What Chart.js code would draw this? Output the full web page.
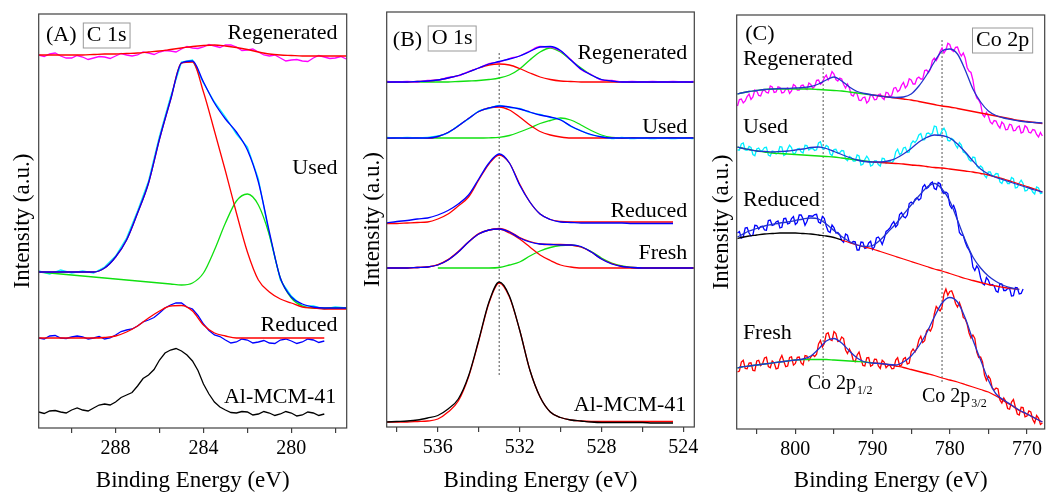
<!DOCTYPE html>
<html>
<head>
<meta charset="utf-8">
<script src="https://cdn.jsdelivr.net/npm/chart.js@4.4.1/dist/chart.umd.min.js"></script>
<style>
  html, body { margin: 0; padding: 0; background: #fff; }
  #wrap { position: relative; width: 1046px; height: 492px; }
  #wrap canvas { position: absolute; left: 0; top: 0; }
</style>
</head>
<body>
<div id="wrap">
  <canvas id="chartA" width="1046" height="492"></canvas>
  <canvas id="chartB" width="1046" height="492"></canvas>
  <canvas id="chartC" width="1046" height="492"></canvas>
</div>
<script>
// ---- (A) C 1s ----
const A_E = [291.5, 291, 290.5, 290, 289.5, 289, 288.5, 288, 287.5, 287, 286.5, 286, 285.5, 285, 284.5,
  284, 283.5, 283, 282.5, 282, 281.5, 281, 280.5, 280, 279.5, 279, 278.5, 278, 277.5];
const A_E025 = [291.5, 291.25, 291, 290.75, 290.5, 290.25, 290, 289.75, 289.5, 289.25, 289, 288.75, 288.5,
  288.25, 288, 287.75, 287.5, 287.25, 287, 286.75, 286.5, 286.25, 286, 285.75, 285.5, 285.25, 285, 284.75,
  284.5, 284.25, 284, 283.75, 283.5, 283.25, 283, 282.75, 282.5, 282.25, 282, 281.75, 281.5, 281.25, 281,
  280.75, 280.5, 280.25, 280, 279.75, 279.5, 279.25, 279, 278.75, 278.5, 278.25, 278, 277.75, 277.5];
const A_regenData = [373, 371.5, 374, 375, 372, 370, 370, 372.5, 371, 368.5, 370, 371.5, 371, 369.5, 372, 374.5,
  373, 372, 373, 376, 375, 373.5, 376, 377.5, 377, 376, 379, 381.5, 380, 379.5, 381, 383.5, 382, 380.5, 383, 383,
  381, 377.5, 378, 379, 376, 373, 372, 373, 370, 367, 368, 368.5, 367, 366.5, 370, 372.5, 371, 369.5, 370, 371.5,
  369];
const A_regenFit = [373, 373, 373, 373, 373, 373.5, 374, 374, 374.5, 375, 376, 377, 378.5, 380, 381.5, 382.5,
  383, 382, 380.5, 378.5, 376, 374, 373, 372.5, 372, 372, 372, 372, 372];
const A_usedData = [157, 154, 158, 155, 157, 155, 161, 172, 190, 217, 247, 292, 331, 366, 368, 345, 326, 311,
  294, 281, 249, 193, 148, 132, 122, 122, 119, 121, 120];
const A_usedFit = [156, 156, 156, 156, 156, 156, 160, 171, 188, 215, 245, 289, 328, 365, 367, 346, 325, 309,
  296, 278, 246, 196, 150, 131, 124, 121, 120, 120, 120];
const A_usedPeak1 = [156, 156, 156, 156, 156, 156, 160, 171, 188, 215, 245, 289, 328, 365, 366, 336, 297, 257,
  215, 176, 148, 136, 129, 125, 121, 120, 119, 119, 119];
const A_usedPeak2 = [156, 155, 154, 153, 152, 151, 150, 149, 148, 147, 146, 145, 144, 143, 145, 155, 178, 205,
  227, 234, 223, 193, 150, 130, 122, 120, 120, 120, 120];
const A_reducedData = [90, 89, 92, 92.5, 90, 89.5, 91, 92, 91, 89, 90, 91.5, 89, 90, 93, 96.5, 98, 99, 102, 106,
  108, 110.5, 115, 120, 123, 125, 125, 121, 119, 112.5, 104, 97.5, 93, 91.5, 88, 85, 86, 89, 88, 85, 86, 87.5,
  85, 84.5, 88, 89, 87, 84.5, 86, 89, 88, 85.5, 87];
const A_reducedFit = [90, 90, 90, 90, 90, 90, 90.5, 92, 96, 102, 110, 117, 122, 122.5, 117, 103, 95, 92, 90, 90,
  90, 90, 90, 90, 90, 90, 90];
const A_mcmData = [16, 14.5, 17, 17.5, 16, 15, 18, 20, 18, 17, 20, 23, 24, 23, 26, 30.5, 33, 35.5, 42, 49.5, 53,
  58.5, 68, 75, 78, 79.5, 77, 73, 67, 57.5, 44, 34, 26, 21, 18, 15.5, 15, 16.5, 16, 13, 14, 16.5, 15, 12.5, 14,
  16.5, 15, 12, 13, 16, 15, 12.5, 14];

// ---- (B) O 1s ----
const B_E = [538.5, 538, 537.5, 537, 536.5, 536, 535.5, 535, 534.5, 534, 533.5, 533, 532.5, 532, 531.5, 531,
  530.5, 530, 529.5, 529, 528.5, 528, 527.5, 527, 526.5, 526, 525.5, 525, 524.5, 524, 523.5];
const B_regenData = [345.5, 345, 345.5, 345, 346.5, 347, 349.5, 351, 355.5, 359, 363.5, 365, 368.5, 371, 376,
  380.5, 380, 376, 367.5, 357.5, 352.5, 347, 346.5, 345, 345.5, 345, 345.5, 345, 345.5, 345, 345.5];
const B_regenFit = [345, 345, 345, 345.5, 346, 347, 349, 351.5, 355, 359, 363, 365.5, 368, 371, 375.5, 380,
  380.5, 376.5, 367, 358, 352, 347.5, 346, 345, 345, 345, 345, 345, 345, 345, 345];
const B_regenPeak1 = [345, 345, 345, 345.5, 346, 347, 349, 351.5, 355, 359, 362, 363, 362, 358.5, 354, 350,
  347.5, 346, 345.5, 345, 345, 345, 345, 345, 345, 345, 345, 345, 345, 345, 345];
const B_regenPeak2 = [345, 345, 345, 345, 345, 345, 345, 345.5, 346, 346.5, 347.5, 349, 352, 358, 367, 375,
  379, 375, 367, 359, 352, 347.5, 346, 345, 345, 345, 345, 345, 345, 345, 345];
const B_usedData = [289.5, 289, 289.5, 289, 289.5, 291, 294, 301.5, 308, 316, 318.5, 321.5, 319.5, 318.5, 314.5,
  312.5, 309.5, 307.5, 300.5, 296.5, 292, 290.5, 288.5, 289.5, 288.5, 289, 288.5, 289, 288.5, 289, 288.5];
const B_usedFit = [289, 289, 289, 289, 289, 290.5, 294.5, 301, 308.5, 315.5, 319, 321, 320, 318, 315, 312, 310,
  307, 301, 296, 292.5, 290, 289, 289, 289, 289, 289, 289, 289, 289, 289];
const B_usedPeak1 = [289, 289, 289, 289, 289, 290.5, 294.5, 301, 308.5, 315.5, 319, 320, 317, 310, 302, 295.5,
  292, 290, 289, 289, 289, 289, 289, 289, 289, 289, 289, 289, 289, 289, 289];
const B_usedPeak2 = [289, 289, 289, 289, 289, 289, 289, 289, 289, 289, 289.2, 289.7, 291.5, 295, 299, 303.5,
  306.5, 309, 307, 302, 296.5, 292, 289.5, 289, 289, 289, 289, 289, 289, 289, 289];
const B_reducedData = [204, 205.5, 206.5, 208, 209, 212, 216.5, 223, 232, 248, 264, 273, 264, 242, 225, 213,
  207.5, 205, 204.5, 204, 204, 204, 204, 204, 203.5, 203.5, 203.5, 203.5, 203.5];
const B_reducedFit = [203.5, 203.5, 204, 204.5, 205, 208, 213, 221, 230, 247, 263, 272, 264, 243, 225, 213,
  207.5, 205.5, 205, 205, 205, 205, 205, 205, 205, 205, 205, 205, 205];
const B_freshData = [159, 159, 159, 159.5, 160, 162, 167, 175, 185, 193, 197, 198, 195, 189, 185, 183, 182.5,
  182, 182, 180.5, 175, 168, 163, 160.5, 159.5, 159, 159, 159, 159, 159, 159];
const B_freshFit = [159, 159, 159, 159.5, 160, 162.5, 167.5, 175.5, 185, 193.5, 197, 198.5, 195.5, 189.5,
  185.5, 183, 182.5, 182.5, 182, 180, 175, 168, 163.5, 160.5, 159.5, 159, 159, 159, 159, 159, 159];
const B_freshPeak1 = [159, 159, 159, 159.5, 160, 162, 167, 175, 185, 193, 197, 198, 194, 188, 180, 172, 166.5,
  162, 160, 159, 159, 159, 159, 159, 159, 159, 159, 159, 159, 159, 159];
const B_freshPeak2 = [159, 159, 159, 159, 159, 159, 159.5, 162, 165, 171, 176, 179.5, 181.5, 182, 180, 175.5,
  169, 164, 161, 159.5, 159, 159, 159, 159, 159, 159];
const B_mcmData = [5, 5.5, 6, 7, 9, 11.5, 18, 28, 51, 87, 125, 145, 131, 97, 57, 30, 15, 9.5, 7, 6, 5, 4.5, 4.5,
  4.5, 4.5, 4.5, 4, 4, 4];
const B_mcmFit = [5, 5, 5, 5.5, 6, 8, 15, 26, 50, 86, 124, 144, 130, 97, 57, 30, 15, 9.5, 7, 6, 5.5, 5.5, 5.5,
  5.5, 5.5, 5.5, 5.5, 5.5, 5.5];
const B_guideE = [533, 533];
const B_guide = [52, 374];

// ---- (C) Co 2p ----
const C_E1 = [807.5, 807, 806, 805, 804, 803, 802, 801, 800, 799, 798, 797, 796, 795, 794, 793, 792, 791, 790,
  789, 788, 787, 786, 785, 784, 783, 782, 781, 780, 779, 778, 777, 776, 775, 774, 773, 772, 771, 770, 769, 768];
const C_E025 = [807.5, 807.25, 807, 806.75, 806.5, 806.25, 806, 805.75, 805.5, 805.25, 805, 804.75, 804.5,
  804.25, 804, 803.75, 803.5, 803.25, 803, 802.75, 802.5, 802.25, 802, 801.75, 801.5, 801.25, 801, 800.75, 800.5,
  800.25, 800, 799.75, 799.5, 799.25, 799, 798.75, 798.5, 798.25, 798, 797.75, 797.5, 797.25, 797, 796.75, 796.5,
  796.25, 796, 795.75, 795.5, 795.25, 795, 794.75, 794.5, 794.25, 794, 793.75, 793.5, 793.25, 793, 792.75, 792.5,
  792.25, 792, 791.75, 791.5, 791.25, 791, 790.75, 790.5, 790.25, 790, 789.75, 789.5, 789.25, 789, 788.75, 788.5,
  788.25, 788, 787.75, 787.5, 787.25, 787, 786.75, 786.5, 786.25, 786, 785.75, 785.5, 785.25, 785, 784.75, 784.5,
  784.25, 784, 783.75, 783.5, 783.25, 783, 782.75, 782.5, 782.25, 782, 781.75, 781.5, 781.25, 781, 780.75, 780.5,
  780.25, 780, 779.75, 779.5, 779.25, 779, 778.75, 778.5, 778.25, 778, 777.75, 777.5, 777.25, 777, 776.75, 776.5,
  776.25, 776, 775.75, 775.5, 775.25, 775, 774.75, 774.5, 774.25, 774, 773.75, 773.5, 773.25, 773, 772.75, 772.5,
  772.25, 772, 771.75, 771.5, 771.25, 771, 770.75, 770.5, 770.25, 770, 769.75, 769.5, 769.25, 769, 768.75, 768.5,
  768.25, 768];
const C_regenData = [323, 329.5, 330, 326, 328, 332.5, 335, 329.5, 332, 339, 338, 333.5, 333, 338, 339, 336.5,
  336, 343, 342, 336.5, 337, 342.25, 341.5, 336, 336.5, 339.75, 341, 335.5, 338, 344.5, 343, 339, 339, 343.5, 344,
  340.75, 339.5, 346, 344.5, 340.5, 342.5, 348.75, 349, 344.75, 346.5, 351.25, 354, 349, 352, 357.5, 355, 349.5,
  348, 351, 350, 344.5, 341, 345, 341, 334, 333, 337, 335, 328.75, 328.5, 331.25, 332, 326, 328, 334.5, 333,
  329.25, 329.5, 334.25, 335, 331.25, 329.5, 336.75, 336, 332, 334, 340.75, 341.5, 337.25, 339, 343.75, 346.5,
  341, 343.5, 350.25, 349, 345, 345, 350.5, 352, 350, 350, 358.5, 359, 356.5, 360, 368.5, 371, 368.5, 372, 377.5,
  381, 376, 379, 385.75, 384.5, 379, 377.5, 381.75, 382, 376.5, 373, 376, 371, 361.5, 358, 356.5, 349, 337, 331,
  329, 325, 314.5, 312, 316.5, 313, 307, 305, 308.5, 308, 303.5, 301, 307, 305, 299.25, 299.5, 304.75, 304,
  298.25, 298.5, 301.75, 303, 296, 297, 303.25, 301.5, 296.75, 296, 299.5, 299, 294.5, 292, 296.5, 293];
const C_regenFit = [335, 336, 337.5, 338.5, 339.5, 340, 340.5, 340.5, 341, 341.5, 342.5, 345, 349, 352, 348, 342,
  337.5, 335.5, 334, 333, 332, 331.5, 332, 335, 343, 354, 367, 378, 380, 375, 359, 340, 327, 318, 313.5, 311,
  309.5, 308, 307, 306.5, 306];
const C_regenBgLow = [335, 336, 337.5, 338.5, 339.5, 340, 340, 340, 340, 340, 340, 339.5, 339, 338.5, 338, 337,
  336, 335, 334];
const C_regenBgHigh = [334, 333, 332, 331, 330, 329, 327.5, 326, 324.5, 323, 322, 320.5, 319, 317.5, 316, 314.5,
  313, 311.5, 310, 308.5, 307.5, 306.5, 305.5];
const C_usedData = [279, 279, 285, 286, 279, 278.75, 282.5, 281.5, 274.5, 273.25, 280, 281, 278, 278.75, 281.5,
  281.75, 274, 273, 278, 277.5, 275, 275.75, 282.5, 282, 273.5, 274.75, 280, 283.75, 281.5, 274.75, 276, 280.25,
  280.5, 277.25, 276, 283.75, 283.5, 279, 280.5, 280.5, 278.5, 279.25, 286, 287.25, 280.5, 280, 283.5, 282.25,
  275, 273.25, 279.5, 279.75, 276, 276.25, 278.5, 278.25, 270, 268.25, 272.5, 271.25, 268, 268, 274, 273, 264,
  264.75, 269.5, 272.75, 270, 263, 264, 268, 268, 264.5, 263, 270.75, 270.5, 265.75, 267, 267.5, 266, 268.5, 277,
  279.75, 274.5, 275.75, 281, 281.75, 276.5, 277, 285.5, 288, 286.5, 289.25, 294, 295.5, 289, 289.25, 295.5, 296,
  294.5, 295.75, 303, 302.25, 293.5, 294, 298.5, 300.75, 297, 288.5, 288, 290.5, 289, 284, 281, 286.5, 284, 277,
  276, 273.75, 269.5, 267.75, 272, 271.5, 263, 261, 263, 261.25, 253.5, 251.25, 257, 257, 253, 253.25, 255.5,
  255.25, 247, 245.5, 250, 248.75, 245.5, 245.5, 251.5, 250.25, 241, 241.5, 246, 248.75, 245.5, 238, 238.5,
  241.75, 241, 237, 235, 242, 241, 235.5, 236];
const C_usedFit = [282, 281, 279.5, 278, 277.5, 277, 277.5, 278, 279, 280, 281.5, 282, 280.5, 277.5, 274.5, 271.5,
  269, 267.5, 267, 267, 268, 270.5, 275, 280.5, 287, 291.5, 294, 293.5, 291, 285, 277, 268, 260, 255, 251.5, 249,
  246.5, 244, 241.5, 239, 237];
const C_usedBgLow = [282, 281, 279.5, 278, 277, 276, 275.5, 275, 274.5, 274, 273.5, 273, 272.5, 272, 271, 270,
  269, 268, 267];
const C_usedBgHigh = [267, 266.5, 266, 265.5, 265, 264, 263.5, 262.5, 261.5, 261, 260, 259, 258, 257, 255.5, 254,
  252, 250, 247.5, 245, 242.5, 240, 237];
const C_reducedData = [196, 197.5, 191, 192, 201, 201.5, 196, 193, 194, 203.75, 203.5, 200, 202.5, 202.75, 199,
  198.75, 208.5, 209, 203.5, 204.25, 207, 208, 201, 201.75, 210.5, 210.75, 205, 205.75, 210.5, 212.5, 204.5,
  206.25, 214, 214, 210, 203.75, 207.5, 213.25, 213, 212.75, 214.5, 214.75, 207, 205.75, 212.5, 210.75, 203,
  197.75, 196.5, 204, 201.5, 196, 196.5, 194.5, 188.5, 186.75, 195, 193.75, 186.5, 186, 187.5, 187.25, 179, 179,
  187, 186.75, 180.5, 181.25, 186, 187.75, 179.5, 182.25, 191, 192, 189, 184.5, 190, 197.5, 199, 201, 205, 207.5,
  202, 204.25, 214.5, 216.5, 212.5, 211.25, 214, 225.5, 227, 225.25, 229.5, 231.25, 229, 230.5, 242, 244.25,
  240.5, 242, 245.5, 247, 240.5, 239.5, 246.5, 245.25, 238, 235.5, 237, 235.5, 224, 220.75, 223.5, 218.25, 209,
  196.5, 194, 193.5, 187, 182, 179, 174.5, 162, 158.5, 163, 160, 151, 145.5, 144, 151.5, 149, 143.75, 144.5,
  143.25, 138, 136.75, 145.5, 145, 138.5, 138.5, 140.5, 140.75, 133, 133.25, 141.5, 141.25, 135, 135.5, 140];
const C_reducedFit = [192, 194, 198, 200.5, 203, 204.5, 206, 207, 208.5, 210, 211, 210, 205, 198.5, 192.5, 187.5,
  184, 182.5, 183.5, 189, 197, 205, 214.5, 224, 233, 241.5, 245.5, 240, 228, 209, 189, 172, 161, 153, 147.5,
  143.5, 141, 139.5];
const C_reducedBgLow = [190.5, 191.5, 193, 194, 195, 195.5, 196, 196, 196, 195.5, 195, 194, 193, 191.5, 189];
const C_reducedBgHigh = [189, 186.5, 184, 182, 180, 177.5, 175, 172.5, 170, 167.5, 165, 162.5, 160, 158, 155.5,
  153, 150.5, 148.5, 146.5, 144.5, 143, 141.5, 140.5, 139.5];
const C_freshData = [57, 58, 67, 68.75, 60.5, 60.25, 66, 66.25, 58.5, 58.25, 68, 68.75, 63.5, 65.25, 71, 71.75,
  62.5, 61.25, 68, 66.1, 60.2, 60.85, 69.5, 73.6, 67.7, 62.35, 63, 71.6, 72.2, 63.85, 65.5, 71.75, 72, 66, 64,
  73.5, 73, 68.5, 72, 74.25, 72.5, 74.75, 85, 88.5, 82, 85.5, 95, 96.25, 89.5, 88.5, 97.5, 95.5, 87.5, 87.75, 92,
  90.5, 79, 75.5, 80, 76.25, 68.5, 67.25, 74, 77, 70, 63.5, 63, 71.25, 71.5, 62.75, 64, 69.85, 69.7, 63.1, 60.5,
  68.75, 67, 61.25, 63.5, 63.85, 60.2, 60.6, 69, 71.25, 63.5, 63.75, 70, 71.5, 65, 66, 77, 80, 77, 81, 89, 92.75,
  86.5, 88.25, 98, 100, 98, 102.5, 115, 122.5, 120, 118, 122, 135, 140, 133.75, 137.5, 138.25, 133, 125.5, 122,
  126.5, 121, 111.5, 110, 105, 96, 91, 94, 90.5, 77, 71.5, 72, 67, 54, 48.5, 53, 50, 41, 39, 41, 40, 29, 26, 31,
  27.75, 20.5, 19.75, 27, 29.5, 22, 15, 14, 21.75, 21.5, 12.25, 13, 18, 17, 9.5, 6, 13.5, 11, 4.5, 6];
const C_freshFit = [61, 62, 63, 64, 65, 66, 67, 68, 69, 70, 73, 80, 88, 90.5, 86, 78, 71, 67, 66, 65.5, 64.5, 64,
  67, 73, 83, 96, 112, 126, 131.5, 127, 111, 89, 69, 49, 35, 29, 24, 19, 15, 11, 7];
const C_freshBgLow = [61, 62, 63, 64, 65, 66, 67, 68, 69, 69.5, 69.5, 69.5, 69.5, 69, 68.5, 68, 67.5, 67, 66];
const C_freshBgHigh = [66, 65.5, 64.5, 63, 61.5, 59.5, 57.5, 55.5, 53.5, 51, 49, 47, 44.5, 42, 39.5, 37, 33, 28,
  23.5, 18.5, 15, 11, 7];
const C_guide1E = [796.4, 796.4];
const C_guide1 = [47, 366];
const C_guide2E = [781, 781];
const C_guide2 = [47, 389];

const SERIF = "'Liberation Serif', 'Times New Roman', serif";
const FRAME = '#404040';
const RED = '#ff0000', BLUE = '#0000ff', FITBLUE = '#2233cc', MAGENTA = '#ff00ff',
  CYAN = '#00f0ff', GREEN = '#10e010', BLACK = '#000000';

const pts = (xs, ys) => ys.map((y, i) => ({ x: xs[i], y: y }));

function line(xs, ys, color, smooth, extra) {
  return Object.assign({
    data: pts(xs, ys),
    borderColor: color,
    borderWidth: 1.3,
    pointRadius: 0,
    tension: smooth ? 0.4 : 0,
    cubicInterpolationMode: smooth ? 'monotone' : 'default',
    fill: false
  }, extra || {});
}

function guide(xs, ys) {
  return line(xs, ys, '#555555', false, { borderDash: [2, 2], borderWidth: 1 });
}

// frame round the plot plus the in-plot texts
const panelText = {
  id: 'panelText',
  afterDatasetsDraw(chart, args, opts) {
    const { ctx, chartArea, scales } = chart;
    ctx.save();
    ctx.strokeStyle = FRAME;
    ctx.lineWidth = 1.2;
    ctx.strokeRect(chartArea.left, chartArea.top, chartArea.right - chartArea.left, chartArea.bottom - chartArea.top);
    ctx.fillStyle = '#000';
    ctx.textBaseline = 'middle';
    (opts.items || []).forEach((it) => {
      const px = scales.x.getPixelForValue(it.x);
      const py = scales.y.getPixelForValue(it.y);
      const size = it.size || 22;
      ctx.font = size + 'px ' + SERIF;
      ctx.textAlign = it.align || 'left';
      ctx.fillText(it.text, px, py);
      const w = ctx.measureText(it.text).width;
      if (it.sub) {
        ctx.font = '12px ' + SERIF;
        ctx.textAlign = 'left';
        ctx.fillText(it.sub, px + w + 1, py + 7);
      }
      if (it.box) {
        ctx.strokeStyle = '#999999';
        ctx.lineWidth = 1;
        ctx.strokeRect(px - 3.5, py - 12.5, w + 7, 25);
      }
    });
    ctx.restore();
  }
};

function makePanel(id, cfg) {
  return new Chart(document.getElementById(id), {
    type: 'line',
    data: { datasets: cfg.datasets },
    options: {
      responsive: false,
      animation: false,
      devicePixelRatio: 1,
      layout: { padding: cfg.padding },
      scales: {
        x: {
          type: 'linear',
          reverse: true,
          min: cfg.xMin,
          max: cfg.xMax,
          afterFit: (s) => { s.height = cfg.xAxisH; },
          border: { display: false },
          grid: { drawOnChartArea: false, drawTicks: true, tickLength: 5, color: FRAME, lineWidth: 1.2 },
          ticks: {
            stepSize: cfg.step,
            includeBounds: false,
            autoSkip: false,
            maxRotation: 0,
            padding: 4,
            color: '#000',
            font: { family: SERIF, size: 20 },
            callback: (v) => (v % cfg.labelEvery === 0 ? String(v) : '')
          },
          title: {
            display: true,
            text: 'Binding Energy (eV)',
            color: '#000',
            font: { family: SERIF, size: 23, lineHeight: 1 },
            padding: { top: 0, bottom: 0 }
          }
        },
        y: {
          min: 0,
          max: cfg.yMax,
          afterFit: (s) => { s.width = cfg.yAxisW; },
          border: { display: false },
          grid: { display: false },
          ticks: { display: false },
          title: {
            display: true,
            text: 'Intensity (a.u.)',
            color: '#000',
            font: { family: SERIF, size: 23, lineHeight: 1 },
            padding: { top: cfg.yTitlePad, bottom: 0 }
          }
        }
      },
      plugins: {
        legend: { display: false },
        tooltip: { enabled: false },
        panelText: { items: cfg.labels }
      }
    },
    plugins: [panelText]
  });
}

makePanel('chartA', {
  padding: { left: 0, right: 699.3, top: 14, bottom: 0 },
  xMin: 277.48, xMax: 291.5, step: 2, labelEvery: 4, yMax: 414,
  xAxisH: 64, yAxisW: 38.7, yTitlePad: 11.5,
  datasets: [
    line(A_E, A_regenFit, RED, true),
    line(A_E025, A_regenData, MAGENTA, false),
    line(A_E, A_usedFit, BLUE, true),
    line(A_E, A_usedPeak1, RED, true),
    line(A_E, A_usedPeak2, GREEN, true),
    line(A_E, A_usedData, CYAN, false),
    line(A_E, A_reducedFit, RED, true),
    line(A_E025, A_reducedData, BLUE, false),
    line(A_E025, A_mcmData, BLACK, false)
  ],
  labels: [
    { text: '(A)', x: 291.17, y: 392.5 },
    { text: 'C 1s', x: 289.31, y: 392.5, box: true },
    { text: 'Regenerated', x: 277.9, y: 395, align: 'right' },
    { text: 'Used', x: 277.9, y: 260, align: 'right' },
    { text: 'Reduced', x: 277.9, y: 103, align: 'right' },
    { text: 'Al-MCM-41', x: 277.95, y: 31, align: 'right' }
  ]
});

makePanel('chartB', {
  padding: { left: 346.7, right: 351.7, top: 12, bottom: 0 },
  xMin: 523.46, xMax: 538.5, step: 2, labelEvery: 4, yMax: 415,
  xAxisH: 65, yAxisW: 40, yTitlePad: 14.8,
  datasets: [
    line(B_E, B_regenFit, BLUE, true),
    line(B_E, B_regenData, MAGENTA, true),
    line(B_E, B_regenPeak1, RED, true),
    line(B_E, B_regenPeak2, GREEN, true),
    line(B_E, B_usedFit, BLUE, true),
    line(B_E, B_usedData, CYAN, true),
    line(B_E, B_usedPeak1, RED, true),
    line(B_E, B_usedPeak2, GREEN, true),
    line(B_E, B_reducedData, BLUE, true),
    line(B_E, B_reducedFit, RED, true),
    line(B_E, B_freshData, BLUE, true),
    line(B_E, B_freshFit, RED, true),
    line(B_E, B_freshPeak1, RED, true),
    line(B_E.slice(5), B_freshPeak2, GREEN, true),
    line(B_E, B_mcmData, BLACK, true),
    line(B_E, B_mcmFit, RED, true),
    guide(B_guideE, B_guide)
  ],
  labels: [
    { text: '(B)', x: 538.2, y: 387 },
    { text: 'O 1s', x: 536.3, y: 388.5, box: true },
    { text: 'Regenerated', x: 523.8, y: 374, align: 'right' },
    { text: 'Used', x: 523.8, y: 300, align: 'right' },
    { text: 'Reduced', x: 523.8, y: 216, align: 'right' },
    { text: 'Fresh', x: 523.8, y: 174, align: 'right' },
    { text: 'Al-MCM-41', x: 523.85, y: 22, align: 'right' }
  ]
});

makePanel('chartC', {
  padding: { left: 696.7, right: 1, top: 15, bottom: 0 },
  xMin: 767.7, xMax: 807.6, step: 5, labelEvery: 10, yMax: 414,
  xAxisH: 63, yAxisW: 40, yTitlePad: 13.8,
  datasets: [
    line(C_E1, C_regenFit, FITBLUE, true),
    line(C_E1.slice(0, 19), C_regenBgLow, GREEN, true),
    line(C_E1.slice(18), C_regenBgHigh, RED, true),
    line(C_E025, C_regenData, MAGENTA, false),
    line(C_E1, C_usedFit, FITBLUE, true),
    line(C_E1.slice(0, 19), C_usedBgLow, GREEN, true),
    line(C_E1.slice(18), C_usedBgHigh, RED, true),
    line(C_E025, C_usedData, CYAN, false),
    line(C_E1, C_reducedFit, FITBLUE, true),
    line(C_E1.slice(0, 15), C_reducedBgLow, BLACK, true),
    line(C_E1.slice(14), C_reducedBgHigh, RED, true),
    line(C_E025, C_reducedData, BLUE, false),
    line(C_E1, C_freshFit, FITBLUE, true),
    line(C_E1.slice(0, 19), C_freshBgLow, GREEN, true),
    line(C_E1.slice(18), C_freshBgHigh, RED, true),
    line(C_E025, C_freshData, RED, false),
    guide(C_guide1E, C_guide1),
    guide(C_guide2E, C_guide2)
  ],
  labels: [
    { text: '(C)', x: 806.5, y: 395 },
    { text: 'Co 2p', x: 776.6, y: 388.5, box: true },
    { text: 'Regenerated', x: 806.8, y: 370 },
    { text: 'Used', x: 806.8, y: 302 },
    { text: 'Reduced', x: 806.8, y: 229 },
    { text: 'Fresh', x: 806.8, y: 96 },
    { text: 'Co 2p', sub: '1/2', x: 798.4, y: 45, size: 20 },
    { text: 'Co 2p', sub: '3/2', x: 783.6, y: 32, size: 20 }
  ]
});
</script>
</body>
</html>
